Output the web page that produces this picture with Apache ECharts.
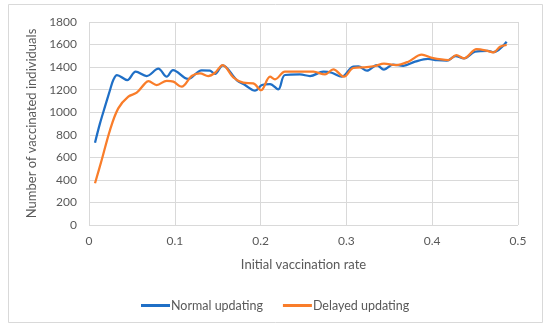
<!DOCTYPE html>
<html>
<head>
<meta charset="utf-8">
<script src="https://cdn.jsdelivr.net/npm/echarts@6/dist/echarts.min.js"></script>
<style>
html,body{margin:0;padding:0;background:#fff;}
#c{width:550px;height:331px;}
</style>
</head>
<body>
<div id="c"></div>
<script>
var xTicks = [0, 0.1, 0.2, 0.3, 0.4, 0.5];
var yTicks = [0, 200, 400, 600, 800, 1000, 1200, 1400, 1600, 1800];

var normalX = [0.007,0.0128,0.0186,0.0245,0.0283,0.0326,0.0446,0.0544,0.0672,0.0808,0.0906,0.0979,0.1154,0.1313,0.141,0.1469,0.1558,0.1721,0.1818,0.1935,0.2016,0.211,0.2206,0.2284,0.2459,0.2576,0.2731,0.2829,0.2945,0.308,0.3139,0.324,0.3353,0.3438,0.3543,0.3663,0.38,0.395,0.4056,0.4172,0.4272,0.437,0.4499,0.465,0.4712,0.4868];
var normalY = [730,901,1049,1197,1285,1330,1285,1360,1321,1386,1315,1374,1295,1372,1368,1339,1416,1285,1241,1191,1241,1250,1203,1330,1335,1321,1359,1350,1315,1404,1406,1368,1418,1378,1422,1412,1448,1473,1462,1458,1498,1478,1536,1545,1533,1625];

var delayedX = [0.007,0.0148,0.0245,0.0341,0.0458,0.0556,0.0653,0.0693,0.0789,0.0906,0.0983,0.108,0.1197,0.1294,0.139,0.1469,0.1558,0.1682,0.1798,0.1915,0.2005,0.211,0.2168,0.2284,0.2459,0.2614,0.2751,0.2847,0.2972,0.308,0.3237,0.3333,0.3438,0.3578,0.3721,0.3878,0.3998,0.4188,0.4281,0.437,0.4519,0.4662,0.4714,0.479,0.4868];
var delayedY = [370,576,842,1034,1138,1173,1256,1275,1241,1279,1271,1226,1321,1345,1321,1350,1418,1309,1262,1256,1195,1315,1292,1359,1360,1359,1335,1380,1315,1392,1400,1410,1430,1418,1448,1510,1482,1463,1507,1478,1560,1540,1530,1581,1598];

function pairs(xs, ys){ return xs.map(function(x,i){ return [x, ys[i]]; }); }

var txt = '#595959';
var font = 'Lato, "Open Sans", sans-serif';
var chart = echarts.init(document.getElementById('c'), null, {renderer:'canvas'});
chart.setOption({
  animation:false,
  backgroundColor:'#fff',
  textStyle:{fontFamily:font},
  graphic:[{type:'rect', shape:{x:8.5,y:4.5,width:534,height:318}, style:{fill:'none', stroke:'#d9d9d9', lineWidth:1}, silent:true}],
  grid:{left:89, right:32, top:22, bottom:106},
  xAxis:{
    type:'value', min:xTicks[0], max:xTicks[xTicks.length-1], interval:0.1,
    name:'Initial vaccination rate', nameLocation:'middle', nameGap:33,
    nameTextStyle:{color:txt, fontSize:13, fontFamily:font},
    axisLine:{show:false}, axisTick:{show:false},
    axisLabel:{color:txt, fontSize:12, margin:10, fontFamily:font, formatter:function(v){return String(+v.toFixed(1));}},
    splitLine:{show:true, lineStyle:{color:'#d9d9d9', width:1}}
  },
  yAxis:{
    type:'value', min:yTicks[0], max:yTicks[yTicks.length-1], interval:200,
    name:'Number of vaccinated individuals', nameLocation:'middle', nameGap:42,
    nameTextStyle:{color:txt, fontSize:13, fontFamily:font},
    axisLine:{show:false}, axisTick:{show:false},
    axisLabel:{color:txt, fontSize:12, margin:12, fontFamily:font, formatter:function(v){return String(v);}},
    splitLine:{show:true, lineStyle:{color:'#d9d9d9', width:1}}
  },
  legend:{
    left:136, top:294, itemWidth:29, itemHeight:3, itemGap:20, icon:'rect',
    textStyle:{color:txt, fontSize:12.5, fontFamily:font, padding:[0,0,0,-4]},
    data:['Normal updating','Delayed updating']
  },
  series:[
    {name:'Normal updating', type:'line', data:pairs(normalX, normalY), smooth:0.35, symbol:'none',
     lineStyle:{color:'#1f6fc6', width:2.25}, itemStyle:{color:'#1f6fc6'}},
    {name:'Delayed updating', type:'line', data:pairs(delayedX, delayedY), smooth:0.35, symbol:'none',
     lineStyle:{color:'#f97d2a', width:2.25}, itemStyle:{color:'#f97d2a'}}
  ]
});
</script>
</body>
</html>
